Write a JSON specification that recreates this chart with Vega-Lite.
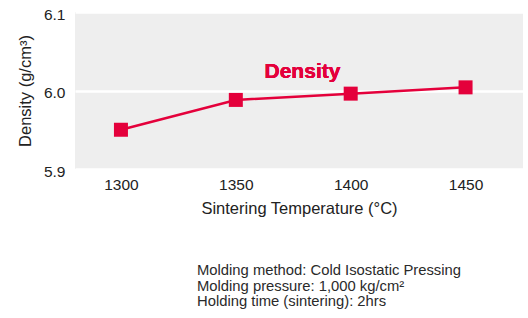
{
  "$schema": "https://vega.github.io/schema/vega-lite/v6.json",
  "width": 448,
  "height": 157,
  "autosize": {"type": "none"},
  "padding": {"left": 75, "top": 12, "right": 5, "bottom": 149},
  "background": "white",
  "config": {
    "font": "Liberation Sans",
    "view": {"fill": "#eeeeee", "stroke": null},
    "axis": {"labelColor": "#222222", "titleColor": "#222222", "labelFont": "Liberation Sans", "titleFont": "Liberation Sans", "titleFontWeight": "normal"}
  },
  "title": {
    "text": ["Molding method: Cold Isostatic Pressing", "Molding pressure: 1,000 kg/cm²", "Holding time (sintering): 2hrs"],
    "orient": "bottom",
    "anchor": "start",
    "frame": "group",
    "dx": 122,
    "offset": 46,
    "fontSize": 14.8,
    "fontWeight": "normal",
    "lineHeight": 15.5,
    "color": "#2a2a2a",
    "font": "Liberation Sans"
  },
  "data": {
    "values": [
      {"temp": 1300, "density": 5.950},
      {"temp": 1350, "density": 5.988},
      {"temp": 1400, "density": 5.996},
      {"temp": 1450, "density": 6.004}
    ]
  },
  "layer": [
    {
      "mark": {"type": "line", "color": "#E4003B", "strokeWidth": 2.5},
      "encoding": {
        "x": {
          "field": "temp", "type": "quantitative",
          "scale": {"domain": [1280, 1475], "nice": false, "zero": false},
          "axis": {"values": [1300, 1350, 1400, 1450], "format": "d", "grid": false, "ticks": false, "domain": false, "labelFlush": false, "labelFontSize": 15.5, "labelPadding": 8, "title": "Sintering Temperature (°C)", "titleFontSize": 16.5, "titlePadding": 8}
        },
        "y": {
          "field": "density", "type": "quantitative",
          "scale": {"domain": [5.9, 6.1], "nice": false, "zero": false},
          "axis": {"values": [5.9, 6.0, 6.1], "format": ".1f", "grid": true, "gridColor": "white", "gridWidth": 2.5, "ticks": false, "domain": false, "labelFontSize": 15.5, "labelPadding": 10, "labelBaseline": "middle", "labelOffset": 2, "title": "Density (g/cm³)", "titleFontSize": 16.5, "titlePadding": 10}
        }
      }
    },
    {
      "mark": {"type": "point", "shape": "square", "filled": true, "size": 196, "color": "#E4003B", "opacity": 1},
      "encoding": {
        "x": {"field": "temp", "type": "quantitative"},
        "y": {"field": "density", "type": "quantitative"}
      }
    },
    {
      "mark": {"type": "text", "text": "Density", "fontSize": 21, "fontWeight": "bold", "color": "#E4003B", "font": "Liberation Sans"},
      "encoding": {
        "x": {"datum": 1379, "type": "quantitative"},
        "y": {"datum": 6.024, "type": "quantitative"}
      }
    }
  ]
}
